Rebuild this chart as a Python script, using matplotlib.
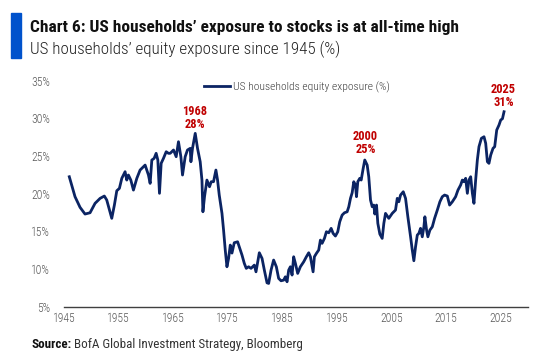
"""
US households' equity exposure since 1945
"""

import matplotlib
matplotlib.use('Agg')
import matplotlib.pyplot as plt
from matplotlib.patches import Rectangle

plt.rcParams['font.family'] = ['Roboto Condensed', 'Liberation Sans Narrow', 'Roboto', 'DejaVu Sans']

# Data
years = [1945.97, 1947.02, 1947.94, 1948.85, 1949.77, 1950.69, 1951.61, 1952.39, 1952.83, 1953.75,
         1954.23, 1954.67, 1955.15, 1955.59, 1956.19, 1956.50, 1956.80, 1957.24, 1957.72, 1958.34,
         1958.94, 1959.55, 1959.86, 1960.17, 1960.47, 1960.78, 1961.09, 1961.51, 1961.88, 1962.19,
         1962.49, 1962.80, 1963.22, 1963.72, 1964.14, 1964.45, 1965.06, 1965.55, 1965.97, 1966.41,
         1966.71, 1967.20, 1967.62, 1968.12, 1968.25, 1968.54, 1969.04, 1969.46, 1969.95, 1970.27,
         1970.45, 1970.74, 1971.18, 1971.66, 1971.97, 1972.39, 1972.83, 1973.13, 1973.44, 1973.94,
         1974.23, 1974.54, 1974.85, 1975.15, 1975.46, 1975.77, 1976.19, 1976.80, 1977.11, 1977.61,
         1978.03, 1978.39, 1978.82, 1979.26, 1979.86, 1980.17, 1980.78, 1981.28, 1981.70, 1982.19,
         1982.49, 1982.93, 1983.40, 1983.90, 1984.32, 1984.76, 1985.24, 1985.55, 1985.86, 1986.16,
         1986.47, 1986.78, 1987.07, 1987.39, 1987.81, 1988.30, 1988.91, 1989.40, 1989.83, 1990.14,
         1990.63, 1990.87, 1991.24, 1991.66, 1991.97, 1992.28, 1992.71, 1993.07, 1993.50, 1993.94,
         1994.30, 1994.72, 1995.15, 1995.51, 1995.95, 1996.38, 1996.87, 1997.17, 1997.48, 1997.79,
         1998.08, 1998.39, 1998.58, 1998.82, 1999.18, 1999.44, 1999.81, 2000.10, 2000.54, 2000.83,
         2001.15, 2001.46, 2001.75, 2001.94, 2002.25, 2002.49, 2002.86, 2003.29, 2003.59, 2003.90,
         2004.50, 2005.13, 2005.73, 2006.05, 2006.34, 2006.65, 2007.15, 2007.57, 2007.99, 2008.49,
         2008.80, 2009.09, 2009.40, 2009.72, 2010.01, 2010.32, 2010.63, 2010.93, 2011.11, 2011.42,
         2011.66, 2012.03, 2012.47, 2012.89, 2013.39, 2013.86, 2014.30, 2014.72, 2015.22, 2015.64,
         2016.14, 2016.74, 2017.17, 2017.66, 2017.97, 2018.27, 2018.58, 2018.89, 2019.18, 2019.50,
         2019.81, 2020.10, 2020.41, 2020.72, 2021.02, 2021.46, 2021.94, 2022.25, 2022.56, 2022.85,
         2023.17, 2023.59, 2023.90, 2024.27, 2024.69, 2025.00, 2025.32, 2025.61]

exposure = [22.25, 19.60, 18.19, 17.30, 17.47, 18.72, 19.38, 19.69, 19.16, 16.73,
            18.49, 20.39, 20.71, 22.04, 22.92, 21.81, 22.48, 21.81, 20.48, 22.04,
            23.14, 23.58, 23.80, 23.14, 22.48, 21.37, 24.47, 24.69, 25.36, 24.47,
            20.05, 24.03, 24.69, 25.57, 25.36, 25.36, 25.80, 24.91, 26.90, 24.91,
            22.48, 24.91, 25.80, 26.02, 24.24, 26.02, 28.01, 26.02, 24.24, 21.81,
            17.60, 19.60, 21.81, 20.92, 21.59, 21.59, 23.14, 21.81, 19.82, 17.39,
            15.17, 12.52, 10.30, 11.41, 13.18, 12.12, 13.49, 13.62, 12.95, 11.85,
            10.75, 10.09, 10.30, 10.09, 10.52, 9.63, 12.16, 11.41, 9.86, 8.17,
            8.09, 9.86, 11.19, 10.30, 8.76, 8.44, 8.53, 8.97, 8.31, 9.86,
            10.30, 9.20, 11.63, 10.75, 9.42, 10.30, 10.96, 11.63, 12.16, 11.63,
            9.63, 11.63, 12.08, 12.52, 13.84, 13.41, 14.07, 14.95, 14.81, 15.40,
            14.73, 14.38, 14.95, 16.27, 17.16, 17.47, 17.60, 18.27, 19.38, 20.13,
            21.59, 21.15, 19.60, 21.59, 22.04, 21.81, 23.37, 24.47, 23.80, 22.25,
            19.16, 18.27, 18.49, 17.30, 18.49, 16.06, 14.64, 14.07, 16.06, 17.39,
            16.73, 17.39, 17.83, 19.38, 18.93, 19.82, 20.26, 19.38, 16.94, 14.28,
            12.52, 11.10, 12.95, 14.51, 14.73, 15.40, 14.28, 15.61, 16.94, 15.17,
            14.28, 15.17, 15.61, 16.73, 17.83, 18.93, 19.60, 19.82, 19.69, 18.49,
            18.93, 19.60, 20.48, 21.15, 21.81, 21.59, 22.04, 20.05, 21.81, 22.25,
            20.05, 18.72, 21.81, 24.47, 26.24, 27.35, 27.56, 26.69, 24.24, 24.03,
            25.13, 26.02, 26.24, 28.45, 29.12, 29.78, 29.95, 30.88]

peak_labels = ['1968\n28%', '2000\n25%', '2025\n31%']
peak_x = [1969.0, 2000.2, 2025.5]
peak_y = [28.3, 25.0, 31.2]

xticks = list(range(1945, 2026, 10))
yticks = [5, 10, 15, 20, 25, 30, 35]

navy = '#0B2463'
red = '#C00000'
grey = '#595959'

W, H = 550, 364
fig = plt.figure(figsize=(5.5, 3.64), dpi=100)
renderer = fig.canvas.get_renderer()


def fit_size(text, width, weight='normal'):
    # font size that makes `text` about `width` pixels wide
    t = fig.text(0, 0, text, fontsize=10, fontweight=weight)
    w = t.get_window_extent(renderer).width
    t.remove()
    return 10 * width / w


ax = fig.add_axes([64 / W, 1 - 306.7 / H, (528 - 64) / W, (306.7 - 80.7) / H])

ax.plot(years, exposure, color=navy, lw=2.0, label='US households equity exposure (%)',
        solid_joinstyle='round')

ann_size = min(fit_size('1968', 25, 'bold'), 10.5)
for lab, px, py in zip(peak_labels, peak_x, peak_y):
    ax.text(px, py, lab, color=red, fontsize=ann_size, fontweight='bold',
            ha='center', va='bottom', linespacing=1.05)

tick_size = min(fit_size('1945', 22.7, 'light'), 9)
ax.set_xlim(1945, 2030)
ax.set_ylim(5, 35)
ax.set_xticks(xticks)
ax.set_yticks(yticks)
ax.set_yticklabels([f'{v}%' for v in yticks])
ax.tick_params(axis='both', length=0, labelsize=tick_size, colors=grey)
ax.tick_params(axis='x', pad=4)
ax.tick_params(axis='y', pad=10)
for lab in ax.get_xticklabels() + ax.get_yticklabels():
    lab.set_fontweight('light')

for s in ['top', 'right', 'left']:
    ax.spines[s].set_visible(False)
ax.spines['bottom'].set_color('#404040')
ax.spines['bottom'].set_linewidth(1.0)

leg_size = min(fit_size('US households equity exposure (%)', 156, 'light'), 8.5)
leg = ax.legend(loc='center left', bbox_to_anchor=(204 / W, 1 - 87.3 / H),
                bbox_transform=fig.transFigure, frameon=False,
                prop={'size': leg_size, 'weight': 'light'},
                handlelength=26 / (leg_size * 100 / 72), handletextpad=0.25,
                borderpad=0, borderaxespad=0)
for t in leg.get_texts():
    t.set_color('#404040')

# Header
fig.patches.append(Rectangle((11 / W, 1 - 58.3 / H), 10 / W, 45 / H,
                             transform=fig.transFigure, color='#0052CC'))
title = 'Chart 6: US households’ exposure to stocks is at all-time high'
subtitle = 'US households’ equity exposure since 1945 (%)'
fig.text(30 / W, 1 - 32.3 / H, title, fontsize=fit_size(title, 430, 'bold'),
         fontweight='bold', color='#111111', va='baseline')
fig.text(30 / W, 1 - 54.3 / H, subtitle, fontsize=fit_size(subtitle, 311, 'light'),
         fontweight='light', color='#222222', va='baseline')

# Source
src_rest = 'BofA Global Investment Strategy, Bloomberg'
src_size = min(fit_size('Source: ' + src_rest, 268), 9.5)
src = fig.text(31 / W, 1 - 347.7 / H, 'Source:', fontsize=src_size, fontweight='bold',
               color='#111111', va='baseline')
bb = src.get_window_extent(renderer)
fig.text((bb.x1 + 3) / W, 1 - 347.7 / H, src_rest,
         fontsize=src_size, color='#333333', va='baseline')

fig.savefig('out.png', dpi=100)
